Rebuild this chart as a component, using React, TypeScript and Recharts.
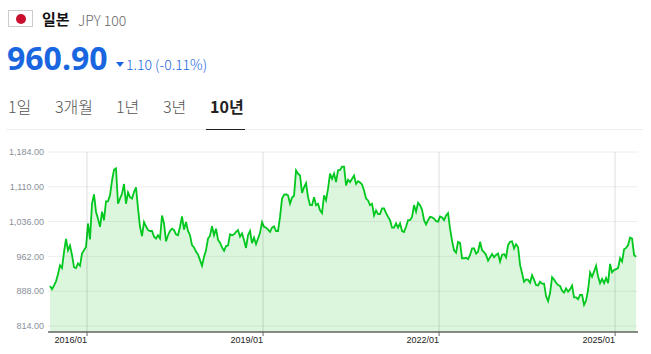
import { AreaChart, Area, XAxis, YAxis, CartesianGrid, ReferenceLine } from 'recharts';

const tabs = ['1일', '3개월', '1년', '3년', '10년'];
const tabLefts = [8, 55, 116, 163, 210];
const yTicks = [814, 888, 962, 1036, 1110, 1184];
const xTicks = [2016, 2019, 2022, 2025];

// 환율 값
const rates = [
  899, 892, 900, 909, 924, 943, 937, 971, 999, 975, 985, 965, 939, 937, 947, 942, 968, 975, 982, 1032,
  998, 1074, 1094, 1057, 1042, 1025, 1057, 1039, 1079, 1079, 1092, 1123, 1146, 1149, 1074, 1085, 1095, 1116, 1074, 1098,
  1088, 1085, 1099, 1109, 1064, 1025, 1005, 1035, 1026, 1018, 1016, 1016, 1004, 1000, 1007, 1000, 1049, 1032, 994, 1007,
  1016, 1021, 1018, 1009, 1007, 1025, 1047, 1019, 1035, 1016, 1007, 986, 981, 972, 966, 954, 942, 961, 975, 1000,
  1006, 1026, 1007, 1021, 997, 991, 981, 974, 984, 985, 1009, 1007, 1009, 1014, 1018, 1004, 1011, 997, 980, 1007,
  1016, 990, 1002, 988, 1000, 1012, 1035, 1025, 1023, 1019, 1014, 1023, 1026, 1016, 1016, 1046, 1085, 1093, 1094, 1092,
  1074, 1087, 1091, 1145, 1138, 1134, 1097, 1109, 1118, 1088, 1071, 1071, 1088, 1071, 1074, 1060, 1054, 1092, 1081, 1106,
  1138, 1127, 1138, 1120, 1145, 1146, 1153, 1153, 1113, 1125, 1120, 1127, 1134, 1116, 1122, 1119, 1115, 1102, 1085, 1081,
  1071, 1074, 1049, 1060, 1052, 1052, 1064, 1064, 1054, 1046, 1039, 1023, 1023, 1032, 1023, 1032, 1016, 1014, 1025, 1039,
  1039, 1046, 1071, 1057, 1076, 1071, 1061, 1039, 1030, 1039, 1046, 1045, 1042, 1037, 1036, 1047, 1045, 1039, 1049, 1054,
  1021, 995, 975, 970, 993, 991, 958, 958, 959, 956, 965, 979, 979, 968, 972, 993, 975, 971, 965, 953,
  960, 967, 960, 965, 968, 951, 965, 967, 960, 986, 993, 994, 979, 988, 982, 944, 926, 908, 913, 912,
  906, 922, 912, 901, 900, 908, 904, 904, 877, 867, 884, 918, 913, 906, 901, 899, 889, 885, 894, 887,
  892, 900, 875, 875, 871, 880, 880, 859, 868, 891, 928, 919, 930, 942, 919, 905, 914, 905, 916, 905,
  946, 928, 933, 935, 937, 958, 951, 977, 980, 986, 1002, 1000, 965, 961,
];

const startYear = 2015.369;
const stepYear = 0.03409;
const chartData = rates.map((rate, i) => ({ year: startYear + i * stepYear, rate }));

const krFont = '"Noto Sans CJK KR", "Noto Sans", sans-serif';
const tickFont = '"Liberation Sans", Arial, sans-serif';

export default function App() {
  return (
    <div style={{ position: 'absolute', left: 0, top: 0, width: 651, height: 354, background: '#fff', overflow: 'hidden', fontFamily: krFont }}>
      <div style={{ position: 'absolute', left: 8, top: 10, width: 23, height: 15, border: '1px solid #ccc' }}>
        <div style={{ position: 'absolute', left: 7, top: 3, width: 10, height: 10, borderRadius: '50%', background: '#c8102e' }} />
      </div>
      <div style={{ position: 'absolute', left: 42, top: 8, fontSize: 15, fontWeight: 700, color: '#111', lineHeight: '22px' }}>일본</div>
      <div style={{ position: 'absolute', left: 78, top: 9, fontSize: 14, fontWeight: 300, color: '#666', lineHeight: '22px' }}>JPY 100</div>
      <div style={{ position: 'absolute', left: 7, top: 37, fontSize: 32, fontWeight: 700, color: '#1a66e0', lineHeight: '42px', fontFamily: '"Noto Sans", sans-serif' }}>960.90</div>
      <div style={{ position: 'absolute', left: 116, top: 62, width: 0, height: 0, borderLeft: '4px solid transparent', borderRight: '4px solid transparent', borderTop: '5px solid #1a66e0' }} />
      <div style={{ position: 'absolute', left: 126, top: 53, fontSize: 14, fontWeight: 300, color: '#1a66e0', lineHeight: '22px' }}>1.10 (-0.11%)</div>
      {tabs.map((tab, i) => (
        <div key={tab} style={{ position: 'absolute', left: tabLefts[i], top: 94, fontSize: 16, fontWeight: i === 4 ? 700 : 300, color: i === 4 ? '#222' : '#555', lineHeight: '24px', whiteSpace: 'nowrap' }}>{tab}</div>
      ))}
      <div style={{ position: 'absolute', left: 6, top: 129, width: 637, height: 1, background: '#eee' }} />
      <div style={{ position: 'absolute', left: 206, top: 129, width: 39, height: 1, background: '#222' }} />
      <div style={{ position: 'absolute', left: 0, top: 0 }}>
        <AreaChart width={651} height={354} data={chartData} margin={{ top: 152, right: 13, bottom: 0, left: 0 }}>
          <CartesianGrid vertical={false} stroke="#eeeeee" />
          {xTicks.map((year) => (
            <ReferenceLine key={year} x={year} stroke="#000000" strokeOpacity={0.067} strokeWidth={2} />
          ))}
          <XAxis
            dataKey="year"
            type="number"
            domain={[2015.335, 2025.39]}
            ticks={xTicks}
            tickFormatter={(y) => `${y}/01`}
            height={22}
            textAnchor="end"
            tick={{ fontSize: 9, fontFamily: tickFont, fill: '#222' }}
            tickSize={4}
            tickMargin={1}
            axisLine={{ stroke: '#222' }}
            tickLine={{ stroke: '#666' }}
          />
          <YAxis
            type="number"
            domain={[801.2, 1184]}
            ticks={yTicks}
            width={48}
            tickFormatter={(v) => `${v.toLocaleString('en-US')}.00`}
            tick={{ fontSize: 9, fontFamily: tickFont, fill: '#8a8f99' }}
            tickMargin={4}
            tickSize={0}
            axisLine={false}
            tickLine={false}
            interval={0}
          />
          <Area
            type="linear"
            dataKey="rate"
            stroke="#00c81e"
            strokeWidth={1.8}
            fill="#0cc41c"
            fillOpacity={0.15}
            dot={false}
            activeDot={false}
            isAnimationActive={false}
          />
        </AreaChart>
      </div>
    </div>
  );
}
